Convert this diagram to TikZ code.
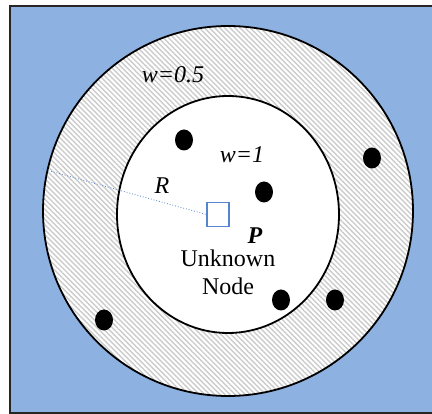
\documentclass[tikz,border=0pt]{standalone}
\usepackage{fontspec}
\setmainfont{Liberation Serif}
\usetikzlibrary{patterns.meta,positioning,shapes.geometric}

\definecolor{bgblue}{RGB}{141,178,225}
\definecolor{sqblue}{RGB}{84,134,206}
\tikzset{
  ring/.style={draw=black,line width=1.8pt},
  hatch/.style={pattern={Lines[angle=-45,distance=3.6pt,line width=1.4pt]},pattern color=black!20},
  sensor/.style={fill=black,ellipse,minimum width=18pt,minimum height=21pt,inner sep=0pt},
  lbl/.style={font=\fontsize{24}{28}\selectfont,inner sep=0pt}
}

\begin{document}
\begin{tikzpicture}[x=1pt,y=-1pt]
  \useasboundingbox (0,0) rectangle (432,414);
  % background field
  \fill[bgblue] (10,6) rectangle (434,413);
  \draw[line width=1.4pt,black!85] (434,6) -- (10,6) -- (10,413) -- (434,413);
  % outer ring, w=0.5
  \fill[white] (228,211) circle (185);
  \fill[hatch] (228,211) circle (185);
  \draw[ring] (228,211) circle (185);
  % inner circle, w=1
  \fill[white] (228,214.5) ellipse (111 and 118.5);
  \draw[ring] (228,214.5) ellipse (111 and 118.5);
  % unknown node P
  \node[draw=sqblue,line width=1.3pt,minimum width=22pt,minimum height=24pt,inner sep=0pt] (p) at (218,214.5) {};
  \coordinate (rEnd) at (43,169);
  \draw[sqblue,dotted,line width=0.8pt] (rEnd) -- (p.west);
  % anchor nodes
  \foreach \name/\px/\py in {a/184/140, b/372/158, c/264/192, d/104/320, e/281/300, f/335/300}
    \node[sensor] (\name) at (\px,\py) {};
  % labels
  \node[lbl] (wout) at (173,75) {\textit{w=0.5}};
  \node[lbl] (win) at (242,155) {\textit{w=1}};
  \node[lbl] (rlbl) at (162,186) {\textit{R}};
  \node[lbl] (plbl) at (255,236) {\textbf{\textit{P}}};
  \node[lbl,align=center,anchor=north] (name) at (228,249.5) {Unknown\\Node};
\end{tikzpicture}
\end{document}
